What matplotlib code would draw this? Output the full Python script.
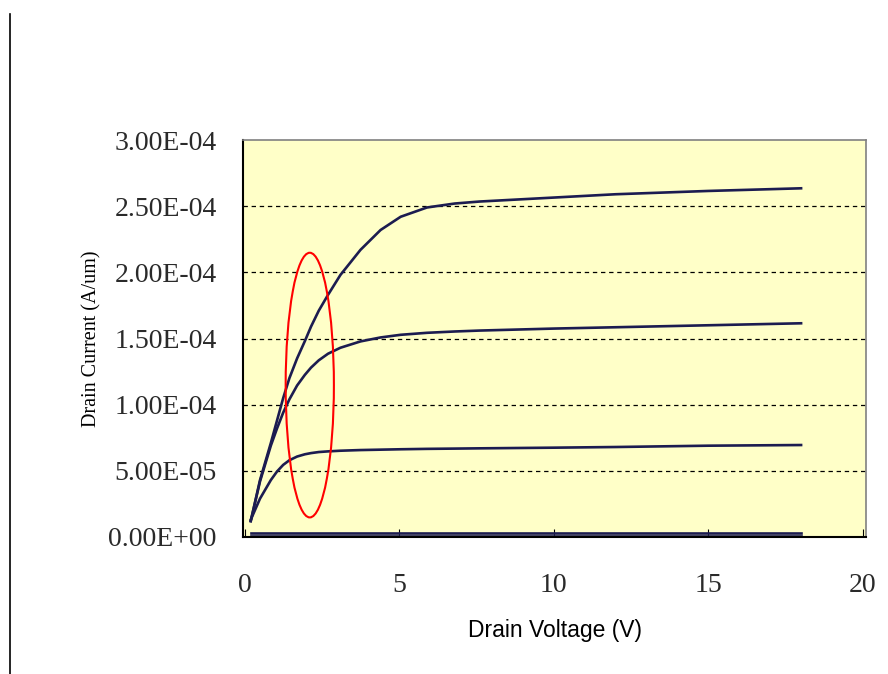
import matplotlib
matplotlib.use('Agg')
import matplotlib.pyplot as plt
from matplotlib.patches import Ellipse
from matplotlib.lines import Line2D

# drain voltage sample points (V)
vd = [0.2, 0.5, 0.85, 1.05, 1.25, 1.45, 1.7, 1.95, 2.15, 2.4, 2.7, 3.1, 3.75, 4.4, 5.05,
      5.9, 6.8, 7.6, 10.0, 12.0, 15.0, 18.0]

# drain current (A/um), one list per gate bias
id_top = [1.2e-5, 4.3e-5, 7.1e-5, 8.8e-5, 1.05e-4, 1.2e-4, 1.35e-4, 1.48e-4, 1.59e-4,
          1.71e-4, 1.83e-4, 1.98e-4, 2.17e-4, 2.32e-4, 2.42e-4, 2.49e-4, 2.52e-4,
          2.535e-4, 2.565e-4, 2.59e-4, 2.615e-4, 2.635e-4]
id_mid = [1.2e-5, 4.2e-5, 6.9e-5, 8.2e-5, 9.4e-5, 1.04e-4, 1.145e-4, 1.225e-4, 1.28e-4,
          1.335e-4, 1.385e-4, 1.43e-4, 1.478e-4, 1.508e-4, 1.528e-4, 1.543e-4, 1.553e-4,
          1.56e-4, 1.575e-4, 1.585e-4, 1.60e-4, 1.615e-4]
id_low = [1.3e-5, 2.9e-5, 4.3e-5, 4.95e-5, 5.45e-5, 5.8e-5, 6.08e-5, 6.25e-5, 6.34e-5,
          6.42e-5, 6.47e-5, 6.52e-5, 6.57e-5, 6.6e-5, 6.63e-5, 6.66e-5, 6.68e-5,
          6.7e-5, 6.75e-5, 6.8e-5, 6.9e-5, 6.95e-5]
id_off1 = [3.2e-6] * len(vd)
id_off2 = [0.6e-6] * len(vd)

yticks = [0, 5e-5, 1e-4, 1.5e-4, 2e-4, 2.5e-4, 3e-4]
ytick_labels = ['0.00E+00', '5.00E-05', '1.00E-04', '1.50E-04', '2.00E-04', '2.50E-04', '3.00E-04']
xticks = [0, 5, 10, 15, 20]

navy = '#1c1c50'

fig = plt.figure(figsize=(8.88, 6.74), dpi=100)
ax = fig.add_axes([243 / 888, 137 / 674, 623 / 888, 397 / 674])
ax.set_facecolor('#ffffc8')

for cur in [id_top, id_mid, id_low, id_off1, id_off2]:
    ax.plot(vd, cur, color=navy, lw=1.9, solid_joinstyle='round')

ax.set_xlim(-0.05, 20.1)
ax.set_ylim(0, 3e-4)

for y in yticks[1:-1]:
    ax.axhline(y, color='black', lw=0.9, ls=(0, (3.5, 3)), zorder=0.5)

ax.set_yticks(yticks)
ax.set_yticklabels(ytick_labels, family='Liberation Serif', fontsize=20, color='#2a2a2a')
ax.set_xticks(xticks)
ax.set_xticklabels([str(t) for t in xticks], family='Liberation Serif', fontsize=20, color='#2a2a2a')
ax.tick_params(axis='x', direction='in', length=6, pad=26)
ax.tick_params(axis='y', length=0, pad=19)

for side in ['top', 'right']:
    ax.spines[side].set_color('#808080')
    ax.spines[side].set_linewidth(1.2)
for side in ['left', 'bottom']:
    ax.spines[side].set_color('black')
    ax.spines[side].set_linewidth(1.5)

ax.set_ylabel('Drain Current (A/um)', family='Liberation Serif', fontsize=14.5)
ax.yaxis.set_label_coords(-0.2265, 0.5)
ax.set_xlabel('Drain Voltage (V)', family='Liberation Sans', fontsize=16.5, labelpad=15)

ell = Ellipse((2.11, 1.148e-4), width=1.56, height=2.0e-4, fill=False,
              edgecolor='red', lw=1.5, zorder=5)
ax.add_patch(ell)

# page margin line on the left
fig.add_artist(Line2D([10 / 888, 10 / 888], [0, 1 - 14 / 674], color='black', lw=1.2))

fig.savefig('out.png', dpi=100)
